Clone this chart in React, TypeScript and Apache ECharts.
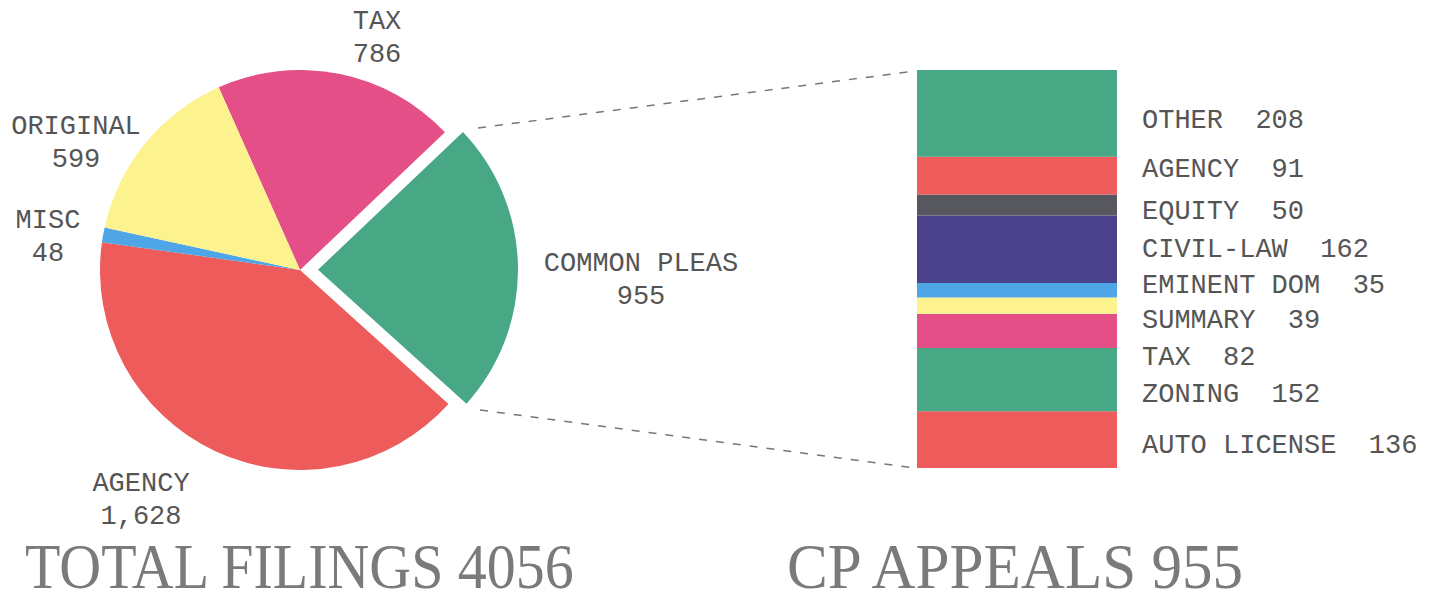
import React, { useEffect, useRef } from "react";
import * as echarts from "echarts";

// ---- data ----
const pieNames = ["TAX", "COMMON PLEAS", "AGENCY", "MISC", "ORIGINAL"];
const pieValues = [786, 955, 1628, 48, 599];
const cpNames = ["AUTO LICENSE", "ZONING", "TAX", "SUMMARY", "EMINENT DOM", "CIVIL-LAW", "EQUITY", "AGENCY", "OTHER"];
const cpValues = [136, 152, 82, 39, 35, 162, 50, 91, 208];
const totalFilings = 4056;
const cpAppeals = 955;
const explodedIndex = 1;

// ---- styles ----
const GREEN = "#48a886";
const RED = "#ee5b5b";
const PINK = "#e34f86";
const YELLOW = "#fdf38e";
const BLUE = "#4ea6e6";
const GRAY = "#57575f";
const PURPLE = "#4b418d";
const pieColors = [PINK, GREEN, RED, BLUE, YELLOW];
const cpColors = [RED, GREEN, PINK, YELLOW, BLUE, PURPLE, GRAY, RED, GREEN];
const cpLabelOffsets = [6, 15, 27, 15, -4, 1, 7, -6, 8];
const pieLabelPos: number[][] = [
  [377, 38],
  [641, 280],
  [141, 500],
  [48, 237],
  [76, 143],
];
const LABEL_FONT = "'Liberation Mono', 'DejaVu Sans Mono', monospace";
const TEXT_COLOR = "#555";

export default function App() {
  const ref = useRef<HTMLDivElement>(null);
  useEffect(() => {
    if (!ref.current) return;
    const chart = echarts.init(ref.current, undefined, { renderer: "svg" });
    const fmt = (v: number) => v.toLocaleString("en-US");
    const labelText = (i: number) => `${pieNames[i]}\n${fmt(pieValues[i])}`;
    const option: any = {
      animation: false,
      backgroundColor: "#ffffff",
      grid: { left: 917, top: 70, width: 200, height: 398 },
      xAxis: { type: "category", data: [""], show: false },
      yAxis: { type: "value", min: 0, max: cpAppeals, show: false },
      series: [
        {
          type: "pie",
          center: [300, 270],
          radius: 200,
          startAngle: 114,
          clockwise: true,
          selectedMode: "single",
          selectedOffset: 18,
          emphasis: { disabled: true },
          data: pieNames.map((n, i) => ({
            name: n,
            value: pieValues[i],
            selected: i === explodedIndex,
            itemStyle: { color: pieColors[i] },
            label: { show: i !== explodedIndex },
          })),
          label: {
            show: true,
            position: "inside",
            formatter: (p: any) => labelText(p.dataIndex),
            fontFamily: LABEL_FONT,
            fontSize: 27,
            lineHeight: 33,
            color: TEXT_COLOR,
            align: "center",
            verticalAlign: "middle",
            overflow: "none",
          },
          labelLine: { show: false },
          labelLayout: (p: any) => ({
            x: pieLabelPos[p.dataIndex][0],
            y: pieLabelPos[p.dataIndex][1],
            align: "center",
            verticalAlign: "middle",
          }),
        },
        ...cpNames.map((n, i) => ({
          type: "bar",
          name: n,
          stack: "cp",
          barWidth: "100%",
          data: [cpValues[i]],
          itemStyle: { color: cpColors[i] },
          emphasis: { disabled: true },
          label: {
            show: true,
            position: "right",
            distance: 25,
            offset: [0, cpLabelOffsets[i]],
            formatter: (p: any) => `${p.seriesName}  ${p.value}`,
            fontFamily: LABEL_FONT,
            fontSize: 27,
            color: TEXT_COLOR,
          },
        })),
      ],
      graphic: [
        {
          type: "text",
          x: pieLabelPos[explodedIndex][0],
          y: pieLabelPos[explodedIndex][1],
          style: {
            text: labelText(explodedIndex),
            fontFamily: LABEL_FONT,
            fontSize: 27,
            lineHeight: 33,
            fill: TEXT_COLOR,
            align: "center",
            verticalAlign: "middle",
          },
        },
        {
          type: "line",
          shape: { x1: 478, y1: 128, x2: 915, y2: 71 },
          style: { stroke: "#777", lineWidth: 1.5, lineDash: [8, 9] },
        },
        {
          type: "line",
          shape: { x1: 480, y1: 410, x2: 915, y2: 468 },
          style: { stroke: "#777", lineWidth: 1.5, lineDash: [8, 9] },
        },
        {
          type: "text",
          x: 25,
          y: 567,
          scaleX: 0.905,
          style: {
            text: `TOTAL FILINGS ${totalFilings}`,
            font: "64px 'Liberation Serif', serif",
            fill: "#7a7a7a",
            align: "left",
            verticalAlign: "middle",
          },
        },
        {
          type: "text",
          x: 787,
          y: 567,
          scaleX: 0.955,
          style: {
            text: `CP APPEALS ${cpAppeals}`,
            font: "64px 'Liberation Serif', serif",
            fill: "#7a7a7a",
            align: "left",
            verticalAlign: "middle",
          },
        },
      ],
    };
    chart.setOption(option);
    return () => chart.dispose();
  }, []);
  return (
    <div
      ref={ref}
      style={{ position: "absolute", left: 0, top: 0, width: 1429, height: 602 }}
    />
  );
}
